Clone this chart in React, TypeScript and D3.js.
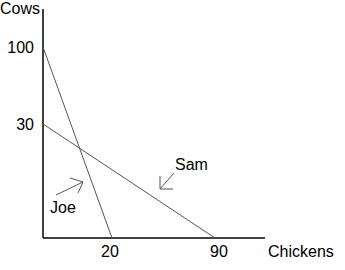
import React from "react";
import * as d3 from "d3";

const xTicks = [20, 90];
const yTicks = [100, 30];
const joeLine: [number, number][] = [[0, 100], [20, 0]];
const samLine: [number, number][] = [[0, 30], [90, 0]];
const xAxisLabel = "Chickens";
const yAxisLabel = "Cows";
const seriesNames = ["Joe", "Sam"];

const W = 345;
const H = 270;

// hand-drawn sketch: piecewise scales
const x = d3.scaleLinear().domain([0, 20, 90, 120]).range([43, 112, 215, 265]);
const y = d3.scaleLinear().domain([0, 30, 100, 115]).range([238, 124, 47, 9]);
const xTickDx = [-2, 4];

const line = d3
  .line<[number, number]>()
  .x((d) => x(d[0]))
  .y((d) => y(d[1]));

const font = "'Liberation Sans', Arial, Helvetica, sans-serif";
const gray = "#555";
const FS = 16;

function Arrow({ tail, tip, legs }: { tail: [number, number]; tip: [number, number]; legs: [number, number][] }) {
  return (
    <g stroke={gray} strokeWidth={1} fill="none">
      <line x1={tail[0]} y1={tail[1]} x2={tip[0]} y2={tip[1]} />
      {legs.map((l, i) => (
        <line key={i} x1={l[0]} y1={l[1]} x2={tip[0]} y2={tip[1]} />
      ))}
    </g>
  );
}

export default function App() {
  const [x0, x1] = [x(0), x(120)];
  const [y0, y1] = [y(0), y(115)];
  return (
    <svg
      width={W}
      height={H}
      style={{ position: "absolute", left: 0, top: 0, background: "#fff" }}
      fontFamily={font}
    >
      <rect width={W} height={H} fill="#fff" />
      {/* axes */}
      <line x1={x0} y1={y0} x2={x0} y2={y1} stroke="#000" strokeWidth={1.5} />
      <line x1={x0} y1={y0} x2={x1} y2={y0} stroke="#000" strokeWidth={1.5} />
      {/* lines */}
      <path d={line(joeLine) || ""} stroke={gray} strokeWidth={1} fill="none" />
      <path d={line(samLine) || ""} stroke={gray} strokeWidth={1} fill="none" />
      {/* tick labels */}
      {yTicks.map((t) => (
        <text key={t} x={34} y={y(t)} dy="0.36em" textAnchor="end" fontSize={FS} fill="#000">
          {t}
        </text>
      ))}
      {xTicks.map((t, i) => (
        <text key={t} x={x(t) + xTickDx[i]} y={257} textAnchor="middle" fontSize={FS} fill="#000">
          {t}
        </text>
      ))}
      <text x={0} y={14} fontSize={FS} fill="#000">{yAxisLabel}</text>
      <text x={268} y={257} fontSize={FS} fill="#000">{xAxisLabel}</text>
      {/* annotations */}
      <text x={50} y={213} fontSize={FS} fill="#000">{seriesNames[0]}</text>
      <Arrow tail={[56, 195]} tip={[83, 182]} legs={[[70, 178], [78, 193]]} />
      <text x={175} y={170} fontSize={FS} fill="#000">{seriesNames[1]}</text>
      <Arrow tail={[174, 173]} tip={[160, 189]} legs={[[160, 176], [173, 189]]} />
    </svg>
  );
}
